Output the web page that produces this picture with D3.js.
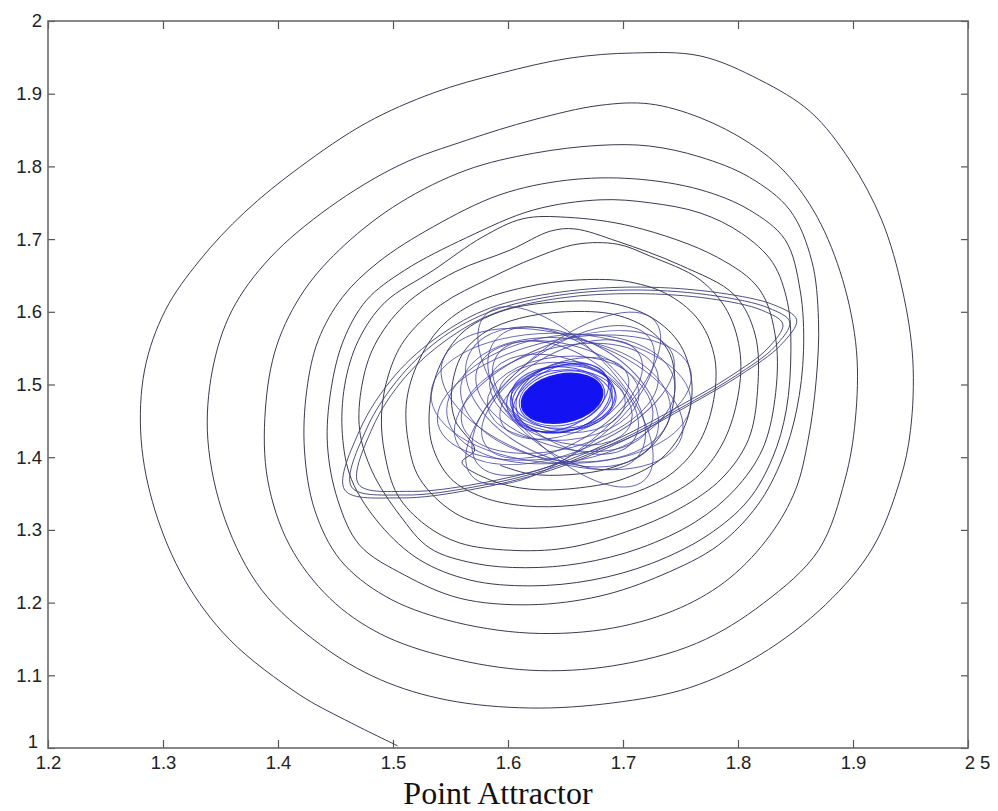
<!DOCTYPE html>
<html>
<head>
<meta charset="utf-8">
<script src="https://cdn.jsdelivr.net/npm/d3@7"></script>
<style>
  html, body { margin: 0; padding: 0; background: #ffffff; }
  svg { display: block; }
  .tick text { font-family: "Liberation Sans", Arial, Helvetica, sans-serif; fill: #222; }
</style>
</head>
<body>
<svg id="chart" width="998" height="811"></svg>
<script>
// ---- axis ticks and labels ----
const xTicks = [1.2, 1.3, 1.4, 1.5, 1.6, 1.7, 1.8, 1.9, 2.0];
const xTickLabels = ["1.2", "1.3", "1.4", "1.5", "1.6", "1.7", "1.8", "1.9", "2 5"];
const yTicks = [1.0, 1.1, 1.2, 1.3, 1.4, 1.5, 1.6, 1.7, 1.8, 1.9, 2.0];
const yTickLabels = ["1", "1.1", "1.2", "1.3", "1.4", "1.5", "1.6", "1.7", "1.8", "1.9", "2"];
const chartTitle = "Point Attractor";

// ---- trajectory, one array per turn of the spiral (x, y) ----
const turn0 = [[1.504,1.003],[1.458,1.039],[1.419,1.073],[1.358,1.149],[1.319,1.231],[1.293,1.327],[1.281,1.424],[1.284,1.520],[1.302,1.602],[1.332,1.671],[1.371,1.737],[1.419,1.799],[1.477,1.860],[1.535,1.901],[1.593,1.928],[1.654,1.949],[1.709,1.956],[1.767,1.952],[1.819,1.919],[1.863,1.875],[1.897,1.809],[1.925,1.726],[1.943,1.630],[1.952,1.534],[1.950,1.437],[1.941,1.369],[1.917,1.275],[1.876,1.197],[1.819,1.128],[1.758,1.083],[1.691,1.062],[1.619,1.055],[1.547,1.066],[1.489,1.094]];
const turn1 = [[1.437,1.142],[1.386,1.217],[1.354,1.314],[1.339,1.424],[1.343,1.520],[1.360,1.602],[1.393,1.674],[1.445,1.744],[1.506,1.802],[1.564,1.836],[1.622,1.864],[1.680,1.884],[1.723,1.886],[1.767,1.867],[1.810,1.832],[1.841,1.792],[1.869,1.730],[1.891,1.644],[1.903,1.547],[1.902,1.451],[1.893,1.369],[1.870,1.272],[1.822,1.199],[1.764,1.144],[1.691,1.113],[1.619,1.107],[1.547,1.125],[1.489,1.157]];
const turn2 = [[1.445,1.206],[1.410,1.279],[1.391,1.369],[1.389,1.465],[1.399,1.554],[1.423,1.630],[1.458,1.692],[1.506,1.750],[1.564,1.795],[1.622,1.818],[1.680,1.829],[1.723,1.828],[1.767,1.813],[1.810,1.785],[1.845,1.740],[1.864,1.671],[1.870,1.589],[1.868,1.506],[1.861,1.424],[1.850,1.355],[1.828,1.293],[1.793,1.234],[1.750,1.193],[1.691,1.165],[1.619,1.158],[1.547,1.176],[1.493,1.209]];
const turn3 = [[1.454,1.259],[1.432,1.327],[1.423,1.410],[1.425,1.492],[1.435,1.561],[1.456,1.620],[1.487,1.668],[1.535,1.717],[1.593,1.761],[1.651,1.781],[1.709,1.783],[1.767,1.768],[1.810,1.740],[1.841,1.699],[1.854,1.630],[1.857,1.547],[1.851,1.465],[1.838,1.396],[1.817,1.334],[1.783,1.279],[1.734,1.238],[1.680,1.209],[1.619,1.197],[1.558,1.206],[1.510,1.238]];
const turn4 = [[1.471,1.279],[1.452,1.341],[1.443,1.417],[1.446,1.492],[1.457,1.561],[1.477,1.616],[1.510,1.657],[1.564,1.702],[1.622,1.740],[1.680,1.754],[1.723,1.750],[1.767,1.736],[1.803,1.708],[1.830,1.668],[1.843,1.613],[1.846,1.547],[1.842,1.465],[1.830,1.399],[1.809,1.341],[1.774,1.293],[1.725,1.254],[1.673,1.231],[1.619,1.223],[1.567,1.231],[1.523,1.259]];
const turn5 = [[1.489,1.307],[1.464,1.369],[1.456,1.431],[1.458,1.499],[1.470,1.561],[1.493,1.613],[1.535,1.657],[1.578,1.703],[1.613,1.728],[1.651,1.730],[1.709,1.717],[1.782,1.675],[1.819,1.630],[1.833,1.561],[1.832,1.479],[1.821,1.410],[1.797,1.355],[1.763,1.311],[1.715,1.275],[1.663,1.254],[1.615,1.248],[1.571,1.254],[1.532,1.275]];
const turn6 = [[1.506,1.320],[1.482,1.380],[1.471,1.437],[1.473,1.499],[1.484,1.554],[1.510,1.609],[1.554,1.655],[1.602,1.685],[1.637,1.711],[1.658,1.714],[1.695,1.697],[1.750,1.664],[1.797,1.623],[1.815,1.568],[1.817,1.492],[1.809,1.424],[1.786,1.371],[1.750,1.330],[1.702,1.297],[1.650,1.275],[1.602,1.272],[1.558,1.282],[1.528,1.307]];
const turn7 = [[1.504,1.348],[1.493,1.403],[1.490,1.458],[1.496,1.513],[1.510,1.561],[1.541,1.609],[1.584,1.646],[1.623,1.674],[1.660,1.693],[1.695,1.693],[1.723,1.677],[1.767,1.644],[1.791,1.600],[1.802,1.541],[1.799,1.476],[1.786,1.417],[1.763,1.371],[1.725,1.337],[1.678,1.314],[1.632,1.303],[1.589,1.305],[1.554,1.323]];
const turn8 = [[1.523,1.371],[1.513,1.424],[1.512,1.479],[1.522,1.531],[1.541,1.578],[1.571,1.612],[1.615,1.634],[1.663,1.644],[1.706,1.641],[1.741,1.622],[1.767,1.586],[1.780,1.534],[1.778,1.472],[1.765,1.417],[1.741,1.376],[1.704,1.348],[1.658,1.334],[1.615,1.333],[1.578,1.345],[1.550,1.371]];
const turn9 = [[1.534,1.417],[1.532,1.472],[1.541,1.527],[1.560,1.571],[1.593,1.600],[1.637,1.613],[1.689,1.612],[1.726,1.591],[1.750,1.554],[1.760,1.499],[1.754,1.444],[1.734,1.399],[1.702,1.371],[1.663,1.358],[1.619,1.356],[1.584,1.369],[1.560,1.393]];
const turn10 = [[1.571,1.410],[1.554,1.451],[1.551,1.492],[1.560,1.541],[1.580,1.572],[1.610,1.591],[1.650,1.600],[1.693,1.596],[1.723,1.575],[1.741,1.541],[1.745,1.492],[1.738,1.444],[1.719,1.407],[1.689,1.385],[1.654,1.376],[1.619,1.377],[1.593,1.389]];
const turns = [turn0, turn1, turn2, turn3, turn4, turn5, turn6, turn7, turn8, turn9, turn10];

// tilted elongated loops that sweep from lower left to upper right
const sweepA = [[1.458,1.355],[1.471,1.437],[1.502,1.513],[1.541,1.568],[1.584,1.605],[1.645,1.627],[1.715,1.634],[1.784,1.626],[1.832,1.609],[1.851,1.589],[1.837,1.554],[1.802,1.513],[1.758,1.472],[1.702,1.424],[1.637,1.382],[1.567,1.355],[1.506,1.344]];
const sweepB = [[1.464,1.359],[1.477,1.439],[1.507,1.512],[1.544,1.566],[1.586,1.601],[1.645,1.623],[1.713,1.630],[1.780,1.622],[1.827,1.605],[1.845,1.586],[1.832,1.552],[1.798,1.512],[1.755,1.472],[1.701,1.426],[1.638,1.385],[1.570,1.359],[1.510,1.348]];
const sweepC = [[1.470,1.363],[1.482,1.440],[1.511,1.511],[1.548,1.563],[1.588,1.598],[1.646,1.619],[1.711,1.625],[1.776,1.618],[1.821,1.602],[1.839,1.583],[1.826,1.550],[1.793,1.511],[1.752,1.473],[1.699,1.428],[1.638,1.388],[1.572,1.363],[1.515,1.353]];
const sweeps = [sweepA, sweepB, sweepC];

// precessing inner loops: centre x, centre y, end of long axis x, y, short/long ratio
const latticeLoops = [
  [1.649,1.482, 1.759,1.518, 0.45],
  [1.647,1.480, 1.751,1.428, 0.50],
  [1.648,1.481, 1.728,1.587, 0.42],
  [1.650,1.483, 1.719,1.369, 0.45],
  [1.646,1.481, 1.759,1.475, 0.50],
  [1.649,1.482, 1.743,1.542, 0.47],
  [1.646,1.480, 1.745,1.503, 0.55],
  [1.650,1.479, 1.741,1.460, 0.58],
  [1.647,1.483, 1.728,1.425, 0.60],
  [1.648,1.478, 1.723,1.564, 0.48],
  [1.651,1.481, 1.713,1.401, 0.58],
  [1.645,1.481, 1.730,1.516, 0.50],
  [1.649,1.484, 1.725,1.448, 0.56],
  [1.647,1.480, 1.714,1.542, 0.50],
  [1.650,1.482, 1.710,1.425, 0.56],
  [1.648,1.481, 1.714,1.490, 0.55],
  [1.646,1.479, 1.707,1.447, 0.56],
  [1.649,1.481, 1.704,1.513, 0.53],
  [1.647,1.482, 1.702,1.474, 0.55]
];

// loops closest to the attractor
const haloLoops = [
  [1.647,1.481, 1.690,1.497, 0.65],
  [1.646,1.480, 1.693,1.490, 0.60],
  [1.648,1.482, 1.688,1.503, 0.70],
  [1.647,1.481, 1.691,1.476, 0.62],
  [1.646,1.482, 1.686,1.510, 0.60],
  [1.648,1.480, 1.694,1.484, 0.55],
  [1.647,1.481, 1.684,1.492, 0.62]
];
// the dense core where the orbit settles
const attractorCore = [1.647,1.481, 1.682,1.492, 0.58];

// ---- layout ----
const svg = d3.select("#chart");
const margin = { left: 48, right: 30, top: 21, bottom: 63 };
const W = 998, H = 811;
const x = d3.scaleLinear().domain([1.2, 2.0]).range([margin.left, W - margin.right]);
const y = d3.scaleLinear().domain([1.0, 2.0]).range([H - margin.bottom, margin.top]);

const plot = svg.append("g");

// trajectory
const allPoints = turns.flat();
const line = d3.line()
  .x(d => x(d[0])).y(d => y(d[1]))
  .curve(d3.curveCatmullRom.alpha(0.5));

plot.append("path")
  .datum(allPoints)
  .attr("d", line)
  .attr("fill", "none")
  .attr("stroke", "#3a3a52")
  .attr("stroke-width", 1);

const closedLine = d3.line()
  .x(d => x(d[0])).y(d => y(d[1]))
  .curve(d3.curveCatmullRomClosed.alpha(0.5));

plot.selectAll("path.sweep")
  .data(sweeps)
  .join("path")
  .attr("class", "sweep")
  .attr("d", closedLine)
  .attr("fill", "none")
  .attr("stroke", "#3c3c70")
  .attr("stroke-width", 0.9);

function ellipseAttrs(sel) {
  sel.each(function (d) {
    const cx = x(d[0]), cy = y(d[1]);
    const ex = x(d[2]), ey = y(d[3]);
    const a = Math.hypot(ex - cx, ey - cy);
    const ang = Math.atan2(ey - cy, ex - cx) * 180 / Math.PI;
    d3.select(this)
      .attr("cx", cx).attr("cy", cy)
      .attr("rx", a).attr("ry", a * d[4])
      .attr("transform", `rotate(${ang},${cx},${cy})`);
  });
}

plot.selectAll("ellipse.lattice")
  .data(latticeLoops)
  .join("ellipse")
  .attr("class", "lattice")
  .call(ellipseAttrs)
  .attr("fill", "none")
  .attr("stroke", "#4242a0")
  .attr("stroke-width", 0.9)
  .attr("stroke-opacity", 0.85);

plot.selectAll("ellipse.halo")
  .data(haloLoops)
  .join("ellipse")
  .attr("class", "halo")
  .call(ellipseAttrs)
  .attr("fill", "none")
  .attr("stroke", "#2222e0")
  .attr("stroke-width", 1)
  .attr("stroke-opacity", 0.8);

plot.selectAll("ellipse.core")
  .data([attractorCore])
  .join("ellipse")
  .attr("class", "core")
  .call(ellipseAttrs)
  .attr("fill", "#1212f2")
  .attr("stroke", "#1a1ae8")
  .attr("stroke-width", 2);

// ---- axes: ticks point inward on all four sides ----
const tickColor = "#555";
const fontSize = 18.5;

const gx = svg.append("g")
  .attr("transform", `translate(0,${y(1.0)})`)
  .call(d3.axisBottom(x).tickValues(xTicks)
    .tickFormat((d, i) => xTickLabels[i])
    .tickSizeInner(-8).tickSizeOuter(0).tickPadding(8));
gx.selectAll("text").attr("font-size", fontSize)
  .attr("dx", (d, i) => i === xTicks.length - 1 ? 9 : 0);

const gxTop = svg.append("g")
  .attr("transform", `translate(0,${y(2.0)})`)
  .call(d3.axisTop(x).tickValues(xTicks).tickFormat("")
    .tickSizeInner(-8).tickSizeOuter(0));

const gy = svg.append("g")
  .attr("transform", `translate(${x(1.2)},0)`)
  .call(d3.axisLeft(y).tickValues(yTicks)
    .tickFormat((d, i) => yTickLabels[i])
    .tickSizeInner(-7).tickSizeOuter(0).tickPadding(6));
gy.selectAll("text").attr("font-size", fontSize)
  .attr("dy", (d, i) => i === 0 ? "-0.05em" : "0.32em")
  .attr("dx", (d, i) => i === 0 ? -4 : 0);

const gyRight = svg.append("g")
  .attr("transform", `translate(${x(2.0)},0)`)
  .call(d3.axisRight(y).tickValues(yTicks).tickFormat("")
    .tickSizeInner(-7).tickSizeOuter(0));

[gx, gxTop, gy, gyRight].forEach(g => {
  g.select(".domain").remove();
  g.selectAll(".tick line").attr("stroke", tickColor).attr("stroke-width", 1.2);
});

// frame
svg.append("rect")
  .attr("x", x(1.2)).attr("y", y(2.0))
  .attr("width", x(2.0) - x(1.2)).attr("height", y(1.0) - y(2.0))
  .attr("fill", "none")
  .attr("stroke", "#6a6a6a")
  .attr("stroke-width", 1.6);

// title
svg.append("text")
  .attr("x", 498)
  .attr("y", 804)
  .attr("text-anchor", "middle")
  .attr("font-family", "'Liberation Serif', 'Times New Roman', Times, serif")
  .attr("font-size", 32)
  .attr("fill", "#111")
  .text(chartTitle);
</script>
</body>
</html>
